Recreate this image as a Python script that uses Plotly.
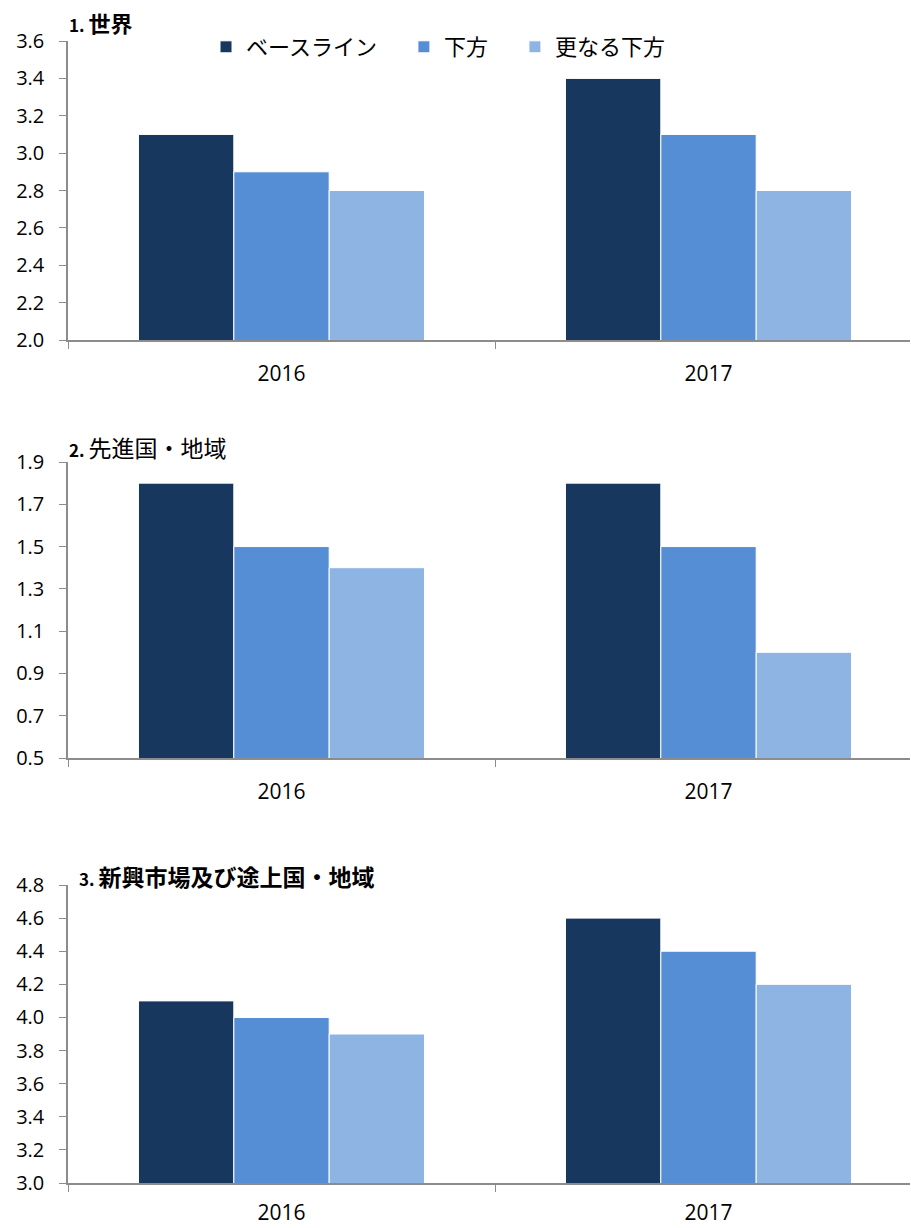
import plotly.graph_objects as go

years = ["2016", "2017"]
series_names = ["ベースライン\u3000", "下方\u3000", "更なる下方\u3000"]
colors = ["#17375E", "#558ED5", "#8EB4E3"]

world = [[3.1, 3.4], [2.9, 3.1], [2.8, 2.8]]
advanced = [[1.8, 1.8], [1.5, 1.5], [1.4, 1.0]]
emerging = [[4.1, 4.6], [4.0, 4.4], [3.9, 4.2]]

panel_titles = [
    "<b><span style='font-size:17px'>1. </span><span style='font-size:22px'>世界</span></b>",
    "<b><span style='font-size:17px'>2. </span></b>先進国・地域",
    "<b><span style='font-size:17px'>3. </span>新興市場及び途上国・地域</b>",
]
panel_data = [world, advanced, emerging]
y_ranges = [(2.0, 3.6), (0.5, 1.9), (3.0, 4.8)]

W, H = 911, 1228
x0, x1 = 68, 910
cat_px = 427  # pixel width of one category slot
y_px = [(41, 340), (462, 758), (885, 1183)]
title_pos = [(67, 22), (67, 447), (77, 876)]
x_standoff = [14, 14, 10]

fig = go.Figure()
font_main = "Open Sans, Noto Sans CJK JP, sans-serif"

for p, data in enumerate(panel_data):
    ax = "" if p == 0 else str(p + 1)
    for s, name in enumerate(series_names):
        fig.add_trace(go.Bar(
            x=years, y=data[s], name=name,
            marker=dict(color=colors[s], line=dict(color="white", width=1)),
            showlegend=(p == 0),
            xaxis="x" + ax, yaxis="y" + ax,
        ))
    top, bot = y_px[p]
    lo, hi = y_ranges[p]
    ticks = [round(lo + 0.2 * i, 1) for i in range(int(round((hi - lo) / 0.2)) + 1)]
    fig.layout["xaxis" + ax] = dict(
        domain=[x0 / W, x1 / W], anchor="y" + ax,
        range=[-0.5, -0.5 + (x1 - x0) / cat_px],
        showline=True, linecolor="#8C8C8C", linewidth=1.5,
        ticks="outside", tickson="boundaries", ticklen=7, tickcolor="#8C8C8C",
        tickfont=dict(family=font_main, size=21, color="black"),
        ticklabelstandoff=x_standoff[p], automargin=False,
        showgrid=False, fixedrange=True,
    )
    fig.layout["yaxis" + ax] = dict(
        domain=[1 - bot / H, 1 - top / H], anchor="x" + ax,
        range=[lo, hi], tickvals=ticks, tickformat=".1f",
        showline=True, linecolor="#8C8C8C", linewidth=1.5,
        ticks="outside", ticklen=7, tickcolor="#8C8C8C",
        tickfont=dict(family=font_main, size=20, color="black"),
        ticklabelstandoff=11, automargin=False,
        showgrid=False, zeroline=False, fixedrange=True,
    )
    tx, ty = title_pos[p]
    fig.add_annotation(
        x=tx / W, y=1 - ty / H, xref="paper", yref="paper",
        text=panel_titles[p], showarrow=False, xanchor="left", yanchor="middle",
        font=dict(family="Noto Sans CJK JP, sans-serif", size=23, color="black"),
    )

fig.update_layout(
    width=W, height=H,
    margin=dict(l=0, r=0, t=0, b=0, autoexpand=False),
    paper_bgcolor="white", plot_bgcolor="white",
    barmode="group", bargap=0.33, bargroupgap=0,
    legend=dict(orientation="h", x=206 / W, y=1 - 47 / H, xanchor="left", yanchor="middle",
                font=dict(family="Noto Sans CJK JP, sans-serif", size=22, color="black"),
                itemwidth=30, bgcolor="rgba(0,0,0,0)"),
)

fig.write_html(
    "out.html",
    config={"displayModeBar": False},
    post_script="document.body.style.margin='0';document.body.style.overflow='hidden';",
)
